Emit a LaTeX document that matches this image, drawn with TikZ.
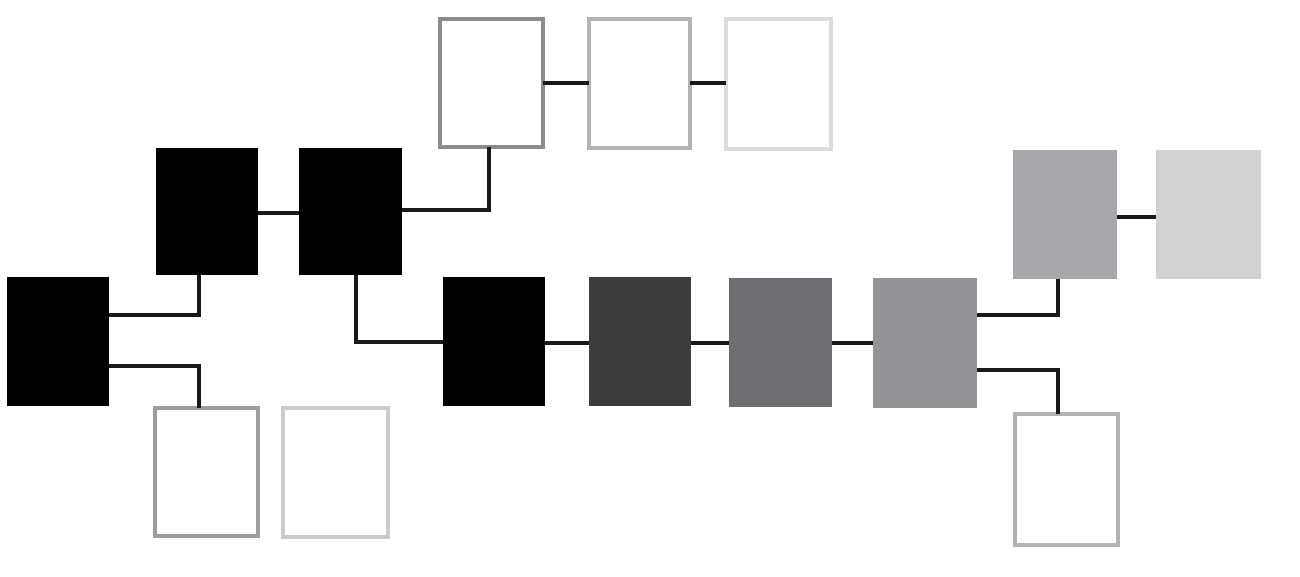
\documentclass[tikz,border=0pt]{standalone}
\usetikzlibrary{calc}
\definecolor{cTa}{HTML}{8C8C8E}
\definecolor{cTb}{HTML}{B2B3B5}
\definecolor{cTc}{HTML}{DCDCDC}
\definecolor{cEa}{HTML}{9D9D9F}
\definecolor{cEb}{HTML}{CBCBCC}
\definecolor{cEc}{HTML}{B3B3B5}
\definecolor{cCb}{HTML}{3C3C3E}
\definecolor{cCc}{HTML}{6D6E71}
\definecolor{cCd}{HTML}{939497}
\definecolor{cGa}{HTML}{A7A8AB}
\definecolor{cGb}{HTML}{D1D2D4}
\tikzset{
  fbox/.style={rectangle, inner sep=0pt, outer sep=0pt, fill=#1},
  obox/.style={rectangle, inner sep=0pt, outer sep=0pt, draw=#1, line width=4pt, fill=white},
  link/.style={line width=4pt, draw=black!90}
}
\begin{document}
\begin{tikzpicture}[x=1pt,y=1pt]
\useasboundingbox (0,0) rectangle (1300,-577);
% filled boxes
\node[fbox=black, minimum width=102, minimum height=129] (L) at (58,-341.5) {};
\node[fbox=black, minimum width=102, minimum height=127] (B1) at (207,-211.5) {};
\node[fbox=black, minimum width=103, minimum height=127] (B2) at (350.5,-211.5) {};
\node[fbox=black, minimum width=102, minimum height=129] (C1) at (494,-341.5) {};
\node[fbox=cCb, minimum width=102, minimum height=129] (C2) at (640,-341.5) {};
\node[fbox=cCc, minimum width=103, minimum height=129] (C3) at (780.5,-342.5) {};
\node[fbox=cCd, minimum width=104, minimum height=130] (C4) at (925,-343) {};
\node[fbox=cGa, minimum width=104, minimum height=129] (G1) at (1065,-214.5) {};
\node[fbox=cGb, minimum width=105, minimum height=129] (G2) at (1208.5,-214.5) {};
% outlined boxes
\node[obox=cTa, minimum width=103, minimum height=128] (T1) at (491.5,-83) {};
\node[obox=cTb, minimum width=101, minimum height=129] (T2) at (639.5,-83.5) {};
\node[obox=cTc, minimum width=105, minimum height=130] (T3) at (778.5,-84) {};
\node[obox=cEa, minimum width=103, minimum height=128] (E1) at (206.5,-472) {};
\node[obox=cEb, minimum width=105, minimum height=129] (E2) at (335.5,-472.5) {};
\node[obox=cEc, minimum width=103, minimum height=131] (E3) at (1066.5,-479.5) {};
% connectors
\draw[link] (L.east |- 0,-315) -| ([xshift=-8]B1.south);
\draw[link] (L.east |- 0,-366) -| ([xshift=-7.5]E1.north);
\draw[link] (B1.east |- 0,-213) -- (B2.west |- 0,-213);
\draw[link] (B2.east |- 0,-210) -| ([xshift=-2.5]T1.south);
\draw[link] (T1.east |- 0,-83) -- (T2.west |- 0,-83);
\draw[link] (T2.east |- 0,-83) -- (T3.west |- 0,-83);
\draw[link] ([xshift=5.5]B2.south) |- (C1.west |- 0,-342);
\draw[link] (C1.east |- 0,-343) -- (C2.west |- 0,-343);
\draw[link] (C2.east |- 0,-343) -- (C3.west |- 0,-343);
\draw[link] (C3.east |- 0,-343) -- (C4.west |- 0,-343);
\draw[link] (C4.east |- 0,-315) -| ([xshift=-7]G1.south);
\draw[link] (C4.east |- 0,-370) -| ([xshift=-8.5]E3.north);
\draw[link] (G1.east |- 0,-217) -- (G2.west |- 0,-217);
\end{tikzpicture}
\end{document}
